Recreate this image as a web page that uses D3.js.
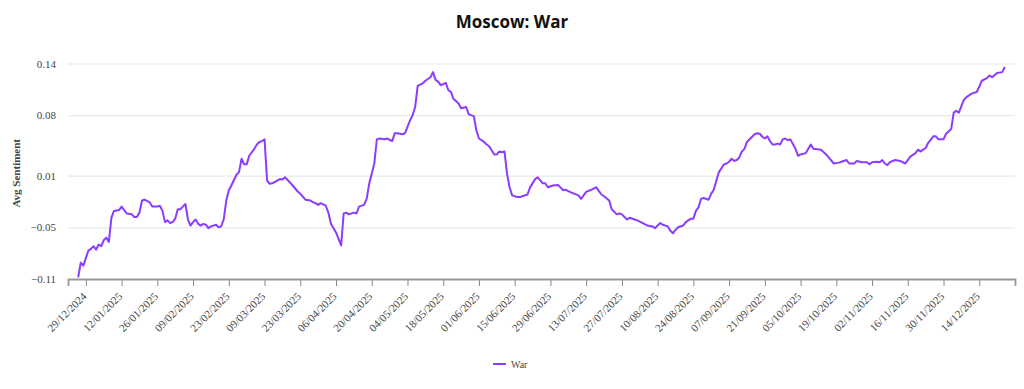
<!DOCTYPE html>
<html>
<head>
<meta charset="utf-8">
<script src="https://cdn.jsdelivr.net/npm/d3@7"></script>
<style>
  body { margin: 0; background: #fff; }
  #graphic svg { display: block; }
</style>
</head>
<body>
<div id="graphic"></div>
<script>
// day offsets from startDate
var startDate = new Date(2024, 11, 29);

var days = [
  -3, -2, -1, 1, 2, 3, 4, 5, 6, 7, 8, 9, 10, 11, 13, 14, 15, 16, 18, 19,
  20, 21, 22, 23, 25, 26, 28, 29, 30, 31, 32, 33, 34, 35, 36, 37, 38, 39, 40, 41,
  42, 43, 44, 45, 46, 47, 48, 49, 51, 52, 53, 54, 55, 56, 57, 59, 60, 61, 62, 63,
  64, 66, 67, 68, 69, 70, 71, 72, 73, 76, 77, 78, 80, 82, 83, 84, 86, 88, 89, 90,
  91, 92, 94, 95, 96, 98, 99, 100, 101, 102, 103, 105, 106, 107, 109, 110, 111, 113, 114, 115,
  117, 118, 120, 121, 122, 124, 125, 127, 128, 129, 130, 132, 133, 135, 136, 137, 138, 139, 140, 141,
  142, 143, 144, 146, 147, 149, 150, 152, 153, 154, 156, 157, 158, 160, 161, 162, 163, 164, 165, 166,
  167, 169, 170, 171, 173, 174, 176, 177, 179, 180, 181, 183, 185, 186, 187, 188, 190, 193, 194, 196,
  198, 200, 201, 202, 203, 205, 206, 208, 209, 210, 212, 213, 215, 216, 218, 220, 222, 223, 225, 226,
  228, 229, 230, 231, 232, 234, 235, 237, 238, 239, 240, 241, 242, 244, 245, 246, 247, 248, 250, 251,
  252, 253, 254, 255, 256, 257, 258, 259, 261, 262, 263, 264, 265, 266, 267, 268, 269, 270, 271, 272,
  273, 274, 275, 276, 278, 279, 280, 282, 284, 285, 288, 290, 291, 293, 295, 296, 298, 299, 301, 302,
  304, 306, 307, 308, 310, 311, 312, 313, 314, 315, 317, 319, 321, 322, 323, 325, 326, 327, 329, 330,
  332, 333, 334, 336, 337, 339, 340, 341, 342, 344, 345, 347, 349, 350, 351, 353, 354, 355, 357, 359,
  360
];

var war = [
  -0.108, -0.091, -0.0945, -0.077, -0.075, -0.072, -0.076, -0.070, -0.072, -0.065, -0.062, -0.067, -0.039, -0.031, -0.030, -0.026, -0.030, -0.034, -0.035, -0.038,
  -0.038, -0.033, -0.019, -0.018, -0.021, -0.026, -0.026, -0.025, -0.031, -0.044, -0.042, -0.045, -0.044, -0.040, -0.029, -0.029, -0.026, -0.023, -0.041, -0.048,
  -0.044, -0.041, -0.046, -0.048, -0.046, -0.047, -0.051, -0.049, -0.047, -0.050, -0.049, -0.041, -0.019, -0.007, -0.0015, 0.011, 0.014, 0.0295, 0.023, 0.023,
  0.033, 0.041, 0.046, 0.049, 0.050, 0.052, 0.004, 0.0005, 0.001, 0.006, 0.0055, 0.008, 0.002, -0.005, -0.0085, -0.011, -0.018, -0.019, -0.021, -0.022,
  -0.024, -0.022, -0.025, -0.033, -0.046, -0.056, -0.0635, -0.071, -0.034, -0.033, -0.035, -0.033, -0.034, -0.026, -0.024, -0.017, 0.0005, 0.024, 0.052, 0.053,
  0.052, 0.053, 0.050, 0.059, 0.059, 0.058, 0.059, 0.074, 0.080, 0.0895, 0.114, 0.117, 0.120, 0.124, 0.130, 0.121, 0.119, 0.115, 0.116, 0.1175,
  0.109, 0.107, 0.099, 0.0935, 0.088, 0.0895, 0.081, 0.079, 0.062, 0.053, 0.049, 0.046, 0.044, 0.0345, 0.0345, 0.038, 0.037, 0.038, 0.012, -0.0035,
  -0.013, -0.015, -0.015, -0.014, -0.012, -0.004, 0.006, 0.008, 0.001, 0.001, -0.0035, -0.0015, -0.001, -0.004, -0.007, -0.0065, -0.0095, -0.013, -0.017, -0.009,
  -0.0065, -0.0035, -0.008, -0.012, -0.014, -0.019, -0.029, -0.035, -0.034, -0.035, -0.041, -0.039, -0.041, -0.042, -0.045, -0.048, -0.049, -0.051, -0.045, -0.047,
  -0.049, -0.054, -0.057, -0.053, -0.050, -0.048, -0.044, -0.040, -0.040, -0.031, -0.027, -0.017, -0.016, -0.018, -0.011, -0.0065, 0.004, 0.014, 0.023, 0.024,
  0.026, 0.0295, 0.027, 0.028, 0.031, 0.038, 0.041, 0.049, 0.055, 0.058, 0.059, 0.0585, 0.055, 0.053, 0.0555, 0.050, 0.046, 0.046, 0.047, 0.046,
  0.052, 0.053, 0.051, 0.052, 0.041, 0.033, 0.0345, 0.036, 0.046, 0.041, 0.040, 0.0345, 0.031, 0.024, 0.025, 0.026, 0.028, 0.024, 0.024, 0.027,
  0.0255, 0.0255, 0.023, 0.0255, 0.026, 0.0255, 0.028, 0.024, 0.022, 0.0255, 0.028, 0.027, 0.024, 0.028, 0.032, 0.036, 0.040, 0.038, 0.042, 0.048,
  0.0555, 0.0555, 0.052, 0.052, 0.0585, 0.064, 0.083, 0.085, 0.083, 0.098, 0.101, 0.105, 0.107, 0.113, 0.120, 0.123, 0.126, 0.124, 0.129, 0.130,
  0.136
];

var yTicks = [-0.11, -0.05, 0.01, 0.08, 0.14];
var seriesName = "War";
var chartTitle = "Moscow: War";
var lineColor = "#8b3dff";

var graphic = new Object;

graphic.create = function() {
  var width = 1024, height = 389;
  var left = 68, right = 1015, top = 63.5, bottom = 279;

  var data = days.map(function(d, i) {
    return { date: d3.timeDay.offset(startDate, d), value: war[i] };
  });

  var x = d3.scaleTime()
    .domain([d3.timeDay.offset(startDate, -7), d3.timeDay.offset(startDate, 364)])
    .range([left, right]);
  var y = d3.scaleLinear().domain([-0.11, 0.14]).range([bottom, top]);

  graphic.svg = d3.select("#graphic").append("svg").attr("width", width).attr("height", height);

  graphic.svg.append("text")
    .attr("x", width / 2).attr("y", 28)
    .attr("text-anchor", "middle")
    .style("font-family", "'Open Sans', sans-serif")
    .style("font-weight", "bold").style("font-size", "17px").style("fill", "#111")
    .text(chartTitle);

  // y grid + labels
  var yAxis = graphic.svg.append("g")
    .attr("transform", "translate(" + left + ",0)")
    .call(d3.axisLeft(y).tickValues(yTicks).tickSize(-(right - left)).tickPadding(12)
      .tickFormat(d3.format(".2f")));
  yAxis.select(".domain").remove();
  yAxis.selectAll("line").attr("stroke", "#e8e8e8").attr("stroke-width", 1.2);
  yAxis.selectAll("text")
    .style("font-family", "'Liberation Serif', serif").style("font-size", "11px").style("fill", "#444");

  graphic.svg.append("text")
    .attr("transform", "translate(20," + ((top + bottom) / 2 + 2) + ") rotate(-90)")
    .attr("text-anchor", "middle")
    .style("font-family", "'Liberation Serif', serif").style("font-weight", "bold")
    .style("font-size", "11px").style("fill", "#444")
    .text("Avg Sentiment");

  // x axis
  var xTicks = d3.timeDay.range(startDate, new Date(2025, 11, 20), 14);
  var xAxis = graphic.svg.append("g")
    .attr("transform", "translate(0," + bottom + ")")
    .call(d3.axisBottom(x).tickValues(xTicks).tickSizeOuter(0).tickSize(7)
      .tickFormat(d3.timeFormat("%d/%m/%Y")));
  xAxis.select(".domain").attr("stroke", "#999").attr("stroke-width", 1.8);
  xAxis.selectAll(".tick line").attr("stroke", "#888");
  xAxis.selectAll("text")
    .attr("x", 0).attr("y", 0).attr("dy", 0)
    .attr("transform", "translate(1,18) rotate(-45)")
    .attr("text-anchor", "end")
    .style("font-family", "'Liberation Serif', serif").style("font-size", "11px").style("fill", "#444");

  var line = d3.line()
    .x(function(d) { return x(d.date); })
    .y(function(d) { return y(d.value); });

  graphic.svg.append("path")
    .datum(data)
    .attr("fill", "none")
    .attr("stroke", lineColor)
    .attr("stroke-width", 2)
    .attr("stroke-linejoin", "round")
    .attr("d", line);

  // legend
  var legend = graphic.svg.append("g").attr("transform", "translate(493,364)");
  legend.append("line").attr("x1", 0).attr("x2", 13).attr("y1", 0).attr("y2", 0)
    .attr("stroke", lineColor).attr("stroke-width", 2);
  legend.append("text").attr("x", 18).attr("y", 4)
    .style("font-family", "'Liberation Serif', serif").style("font-size", "10px").style("fill", "#444")
    .text(seriesName);
};

graphic.create();
</script>
</body>
</html>
